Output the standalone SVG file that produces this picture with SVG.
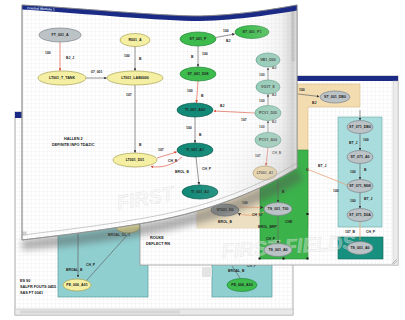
<svg xmlns="http://www.w3.org/2000/svg" width="405" height="320" viewBox="0 0 405 320">
<defs>
<style>
text{font-family:"Liberation Sans",Arial,sans-serif;fill:#222;}
.nl{font-size:3.6px;font-weight:bold;text-anchor:middle;}
.el{font-size:3.4px;font-weight:bold;}
.blk{font-size:3.8px;font-weight:bold;}
.yel{fill:#f4efa2;stroke:#a8a050;stroke-width:.7;}
.gry{fill:#bcc3c7;stroke:#7d8388;stroke-width:.7;}
.grn{fill:#3dbb4c;stroke:#23863a;stroke-width:.7;}
.dtl{fill:#138a78;stroke:#0b5a4e;stroke-width:.7;}
.ltl{fill:#8ccab2;stroke:#4f9480;stroke-width:.7;}
.tan{fill:#f1d8a0;stroke:#a88a58;stroke-width:.7;}
.e{fill:none;stroke:#666;stroke-width:.7;}
.r{fill:none;stroke:#e0604a;stroke-width:.7;}
.o{fill:none;stroke:#e9a27a;stroke-width:.8;}
.win{stroke:#9a9a9a;stroke-width:.8;}
.bar{fill:#1b2a84;}
.wm{font-size:20px;font-weight:bold;fill:#f2f2f2;fill-opacity:.35;stroke:#d8d8d8;stroke-opacity:.7;stroke-width:.4;font-style:italic;}
</style>
<pattern id="grid" width="4" height="4" patternUnits="userSpaceOnUse">
<rect width="4" height="4" fill="#fff"/>
<path d="M4 0V4M0 4H4" stroke="#e3e5e8" stroke-width=".5"/>
</pattern>
<marker id="ah" viewBox="0 0 6 6" refX="5" refY="3" markerWidth="4" markerHeight="4" orient="auto"><path d="M0 0L6 3L0 6Z" fill="#333"/></marker>
<marker id="ahr" viewBox="0 0 6 6" refX="5" refY="3" markerWidth="4" markerHeight="4" orient="auto"><path d="M0 0L6 3L0 6Z" fill="#d84a35"/></marker>
<linearGradient id="pageShade" gradientUnits="userSpaceOnUse" x1="22" y1="0" x2="297" y2="0">
<stop offset="0" stop-color="#fff" stop-opacity="0"/>
<stop offset="0.8" stop-color="#fff" stop-opacity="0"/>
<stop offset="0.94" stop-color="#d4d4d4" stop-opacity=".3"/>
<stop offset="0.985" stop-color="#b5b5b5" stop-opacity=".6"/>
<stop offset="1" stop-color="#eeeeee" stop-opacity=".9"/>
</linearGradient>
<radialGradient id="curlShade" gradientUnits="userSpaceOnUse" cx="300" cy="200" r="110">
<stop offset="0" stop-color="#b0b0b0" stop-opacity=".5"/>
<stop offset="0.5" stop-color="#c8c8c8" stop-opacity=".2"/>
<stop offset="1" stop-color="#fff" stop-opacity="0"/>
</radialGradient>
<filter id="blur" x="-10%" y="-50%" width="120%" height="200%"><feGaussianBlur stdDeviation="3"/></filter>
<clipPath id="pageClip"><path d="M22,5 C90,9 160,16 200,16 C240,15 275,9 297,5 L297,168 C260,190 215,210 150,222 C100,231 55,236 22,240 Z"/></clipPath>
</defs>

<!-- Back window -->
<g id="window3">
<rect class="win" x="15" y="112" width="278" height="203" fill="url(#grid)"/>
<rect class="bar" x="15" y="112" width="278" height="6"/>
<rect x="15" y="309" width="278" height="6" fill="#e9e9e9" stroke="#b5b5b5" stroke-width=".5"/>
<rect x="20" y="310.5" width="160" height="3" fill="#d6d6d6"/>
<rect x="58" y="200" width="90" height="97" fill="#8fcfd0" stroke="#5a9a9a" stroke-width=".7"/>
<rect x="212" y="240" width="60" height="57" fill="#8fcfd0" stroke="#5a9a9a" stroke-width=".7"/>
<rect x="202" y="267" width="10" height="10" fill="#e4e4e4"/>
<g id="w3-edges">
<path class="e" d="M78,215 V277" marker-end="url(#ah)"/>
<path class="e" d="M86,281 L130,232" stroke="#2a6a70"/>
<path class="e" d="M232,266 L240,278"/>
<text class="el" x="66" y="271">BROAL_B</text>
<text class="el" x="86" y="266">CH_P</text>
<text class="el" x="108" y="236">BROAL_DL_1</text>
<text class="el" x="228" y="272">BROAL_B</text>
<text class="el" x="247" y="267">CH_P</text>
</g>
<g id="w3-n1"><ellipse class="yel" cx="128" cy="227" rx="12" ry="6"/></g>
<g id="w3-n2"><ellipse class="yel" cx="77" cy="285" rx="14" ry="6"/><text class="nl" x="77" y="286.3">PE_006_A01</text></g>
<g id="w3-n3"><ellipse class="grn" cx="242" cy="285" rx="15" ry="6.5"/><text class="nl" x="242" y="286.3">PE_006_A03</text></g>
<text class="blk" x="20" y="282">ES 90</text>
<text class="blk" x="20" y="288">SALFR FOUTS 0455</text>
<text class="blk" x="20" y="294">SAS FT 0041</text>
</g>

<!-- Middle window -->
<g id="window2">
<rect class="win" x="140" y="76" width="258" height="189" fill="url(#grid)"/>
<rect class="bar" x="140" y="76" width="258" height="5"/>
<rect x="393" y="81" width="5" height="184" fill="#ececec" stroke="#bbb" stroke-width=".4"/>
<path d="M392,264 L397,259 M394,264 L397,261" stroke="#888" stroke-width=".5"/>
<path d="M197,84 H360 V107 H308 V228 H197 Z" fill="#f3dcb0" stroke="#d8bd88" stroke-width=".6"/>
<rect x="197" y="175" width="63" height="53" fill="#ecdfc2"/>
<rect x="260" y="150" width="48" height="109" fill="#3cb24b" stroke="#2a8a3a" stroke-width=".6"/>
<rect x="338" y="117" width="44" height="110" fill="#a9dcdc" stroke="#6aa8a8" stroke-width=".6"/>
<rect x="338" y="237" width="45" height="22" fill="#17907f" stroke="#0e6a5c" stroke-width=".6"/>
<g fill="#111"><rect x="306.5" y="168.5" width="2" height="2"/><rect x="306.5" y="213" width="2" height="2"/><rect x="306.5" y="257.5" width="2" height="2"/><rect x="282.5" y="257.5" width="2" height="2"/><rect x="258.5" y="257.5" width="2" height="2"/></g>
<text class="wm" x="222" y="258" transform="rotate(-4 222 258)">FIRST FIELDS</text>
<g id="w2-edges">
<path class="e" d="M298,94 L319,96.5" stroke="#333" marker-end="url(#ah)"/>
<text class="el" x="299" y="91">100</text>
<text class="el" x="312" y="104">BJ</text>
<path class="e" d="M360,110 V120" marker-end="url(#ah)"/>
<path class="e" d="M360,133.5 V150" marker-end="url(#ah)"/>
<text class="el" x="349" y="144">BT_J</text><text class="el" x="363" y="141">100</text>
<path class="e" d="M360,163.5 V179" marker-end="url(#ah)"/>
<text class="el" x="350" y="173">100</text><text class="el" x="364" y="171">B</text>
<path class="e" d="M360,192.5 V208" marker-end="url(#ah)"/>
<text class="el" x="350" y="202">100</text><text class="el" x="364" y="200">BT_J</text>
<path class="o" d="M360,221.5 V240"/>
<text class="el" x="345" y="233">107_B</text><text class="el" x="366" y="233">CH_P</text>
<path class="o" d="M307,169 L347,185"/>
<text class="el" x="318" y="167">BT_J</text><text class="el" x="333" y="192">100</text>
<path class="e" d="M278,180 V202" stroke="#222" marker-end="url(#ah)"/>
<text class="el" x="282" y="193">B</text>
<path class="e" d="M278,215.5 V243" stroke="#222" marker-end="url(#ah)"/>
<text class="el" x="285" y="223">CHE</text><text class="el" x="258" y="228">BROL_BRP</text><text class="el" x="266" y="240">CH_P</text>
<path class="o" d="M239,207 L263,207.5" marker-end="url(#ah)"/>
<path class="o" d="M264,212 C255,216 245,216 238,213.5" marker-end="url(#ah)"/>
<text class="el" x="242" y="204">100</text><text class="el" x="252" y="216">CH_07</text><text class="el" x="218" y="223">BROL_B</text>
</g>
<g id="w2-n1"><ellipse class="gry" cx="335" cy="97" rx="15" ry="6"/><text class="nl" x="335" y="98.3">ST_001_DB0</text></g>
<g id="w2-n2"><ellipse class="gry" cx="360" cy="127" rx="13" ry="6.5"/><text class="nl" x="360" y="128.3">ST_071_DB0</text></g>
<g id="w2-n3"><ellipse class="gry" cx="360" cy="157" rx="13" ry="6.5"/><text class="nl" x="360" y="158.3">ST_071_A0</text></g>
<g id="w2-n4"><ellipse class="gry" cx="360" cy="186" rx="13" ry="6.5"/><text class="nl" x="360" y="187.3">ST_071_M08</text></g>
<g id="w2-n5"><ellipse class="gry" cx="360" cy="215" rx="13" ry="6.5"/><text class="nl" x="360" y="216.3">ST_071_D0A</text></g>
<g id="w2-n6"><ellipse class="gry" cx="360" cy="248" rx="13" ry="6.5"/><text class="nl" x="360" y="249.3">TS_001_A0</text></g>
<g id="w2-n7"><ellipse class="gry" cx="278" cy="209" rx="14" ry="6.5"/><text class="nl" x="278" y="210.3">TS_001_T00</text></g>
<g id="w2-n8"><ellipse class="gry" cx="278" cy="250" rx="14" ry="6.5"/><text class="nl" x="278" y="251.3">TS_001_A0</text></g>
<g id="w2-n9"><ellipse cx="225" cy="210" rx="14" ry="6" fill="#9ca0a0" stroke="#6a6e6e" stroke-width=".7"/><text class="nl" x="225" y="211.3">ST001_D0</text></g>
<text class="blk" x="150" y="239">ROUKE</text>
<text class="blk" x="146" y="245">DEFLECT RN</text>
</g>

<!-- Curl shadow -->
<path d="M22,240 C55,236 100,231 150,222 C215,210 260,190 297,168 L303,180 C262,204 218,222 150,234 C100,243 55,248 22,250 Z" fill="#555" opacity=".45" filter="url(#blur)"/>

<!-- Front curled window -->
<g id="window1">
<path class="win" d="M22,5 C90,9 160,16 200,16 C240,15 275,9 297,5 L297,168 C260,190 215,210 150,222 C100,231 55,236 22,240 Z" fill="url(#grid)"/>
<g clip-path="url(#pageClip)">
<text class="wm" x="118" y="210" transform="rotate(-10 118 210)">FIRST</text>
<g id="w1-edges">
<path class="r" d="M60,42 V70.5" marker-end="url(#ahr)"/>
<text class="el" x="45" y="54">100</text><text class="el" x="66" y="59">BJ_J</text>
<path class="e" d="M86,78 H106.5" stroke="#222" marker-end="url(#ah)"/>
<text class="el" x="91" y="73">07_001</text>
<path class="e" d="M135,46.5 V70.5" marker-end="url(#ah)"/>
<text class="el" x="124" y="57">100</text><text class="el" x="139" y="60">B</text>
<path class="e" d="M135,85 V152.5" marker-end="url(#ah)"/>
<text class="el" x="126" y="96">107</text><text class="el" x="139" y="146">B</text>
<path class="e" d="M216,37.5 L234.5,34" marker-end="url(#ah)"/>
<text class="el" x="223" y="32">100</text><text class="el" x="226" y="42">BJ</text>
<path class="e" d="M198,46 V66.5" marker-end="url(#ah)"/>
<text class="el" x="191" y="58">B</text><text class="el" x="202" y="55">100</text>
<path class="r" d="M198,81 L196.5,102.5" marker-end="url(#ahr)"/>
<text class="el" x="187" y="92">100</text><text class="el" x="201" y="97">B</text>
<path class="e" d="M195,117 V142.5" marker-end="url(#ah)"/>
<text class="el" x="186" y="129">100</text><text class="el" x="199" y="136">B</text>
<path class="e" d="M196,157 L199,184.5" marker-end="url(#ah)"/>
<text class="el" x="202" y="170">CH_P</text>
<path class="r" d="M255,113 L214,111" marker-end="url(#ahr)"/>
<text class="el" x="241" y="121">107</text><text class="el" x="220" y="107">BJ</text>
<path class="e" d="M268,80 V68" marker-end="url(#ah)"/>
<text class="el" x="259" y="76">100</text><text class="el" x="272" y="69">BJ</text>
<path class="e" d="M268,106 V94.5" marker-end="url(#ah)"/>
<text class="el" x="259" y="102">100</text><text class="el" x="272" y="96">BJ</text>
<path class="e" d="M268,133 V121" marker-end="url(#ah)"/>
<text class="el" x="259" y="128">100</text><text class="el" x="272" y="123">BJ</text>
<path class="r" d="M268,147.5 L266,165.5" marker-end="url(#ahr)"/>
<text class="el" x="255" y="157">107</text><text class="el" x="272" y="154">CH_B</text>
<path class="r" d="M157,158 L176.5,152" marker-end="url(#ahr)"/>
<text class="el" x="158" y="151">107</text><text class="el" x="168" y="162">CH_B</text>
<path class="r" d="M182,157 C172,166 160,168 151,166.5" marker-end="url(#ahr)"/>
<text class="el" x="175" y="173">BROL_B</text>
</g>
<g id="w1-n1"><ellipse class="gry" cx="60" cy="35" rx="21" ry="7"/><text class="nl" x="60" y="36.3">FT_001_A</text></g>
<g id="w1-n2"><ellipse class="yel" cx="62" cy="78" rx="24" ry="7"/><text class="nl" x="62" y="79.3">LT001_T_TANK</text></g>
<g id="w1-n3"><ellipse class="yel" cx="135" cy="40" rx="15" ry="6.5"/><text class="nl" x="135" y="41.3">R001_A</text></g>
<g id="w1-n4"><ellipse class="yel" cx="135" cy="78" rx="28" ry="7"/><text class="nl" x="135" y="79.3">LT001_LAB0000</text></g>
<g id="w1-n5"><ellipse class="yel" cx="135" cy="160" rx="22" ry="7"/><text class="nl" x="135" y="161.3">LT001_D01</text></g>
<g id="w1-n6"><ellipse class="grn" cx="198" cy="39" rx="18" ry="7"/><text class="nl" x="198" y="40.3">ST_001_P</text></g>
<g id="w1-n7"><ellipse class="grn" cx="252" cy="32" rx="17" ry="6.5"/><text class="nl" x="252" y="33.3">ST_001_P1</text></g>
<g id="w1-n8"><ellipse class="grn" cx="198" cy="74" rx="18" ry="7"/><text class="nl" x="198" y="75.3">ST_001_D08</text></g>
<g id="w1-n9"><ellipse class="dtl" cx="195" cy="110" rx="18" ry="7"/><text class="nl" x="195" y="111.3">TI_001_A03</text></g>
<g id="w1-n10"><ellipse class="dtl" cx="195" cy="150" rx="18" ry="7"/><text class="nl" x="195" y="151.3">TI_001_A1</text></g>
<g id="w1-n11"><ellipse class="dtl" cx="200" cy="192" rx="18" ry="7"/><text class="nl" x="200" y="193.3">TI_001_A2</text></g>
<g id="w1-n12"><ellipse class="ltl" cx="268" cy="60" rx="12" ry="7"/><text class="nl" x="268" y="61.3">VB1_D00</text></g>
<g id="w1-n13"><ellipse class="ltl" cx="268" cy="87" rx="12" ry="7"/><text class="nl" x="268" y="88.3">VO1T_E</text></g>
<g id="w1-n14"><ellipse class="ltl" cx="268" cy="113" rx="13" ry="7.5"/><text class="nl" x="268" y="114.3">PCV1_D05</text></g>
<g id="w1-n15"><ellipse class="ltl" cx="268" cy="140" rx="13" ry="7.5"/><text class="nl" x="268" y="141.3">PCV1_A04</text></g>
<g id="w1-n16"><ellipse class="tan" cx="265" cy="173" rx="12" ry="7"/><text class="nl" x="265" y="174.3">LT001_A1</text></g>
<text class="blk" x="64" y="140">HALLEN 2</text>
<text class="blk" x="52" y="146">DEFINITE INFO TDAZIC</text>
<rect x="292" y="11" width="5" height="50" fill="#d4d4d4" stroke="#aaa" stroke-width=".4"/>
</g>
<path d="M22,5 C90,9 160,16 200,16 C240,15 275,9 297,5 L297,168 C260,190 215,210 150,222 C100,231 55,236 22,240 Z" fill="url(#pageShade)"/>
<path d="M22,5 C90,9 160,16 200,16 C240,15 275,9 297,5 L297,168 C260,190 215,210 150,222 C100,231 55,236 22,240 Z" fill="url(#curlShade)"/>
<path class="bar" d="M22,5 C90,9 160,16 200,16 C240,15 275,9 297,5 L297,10.5 C275,14 240,20 200,21 C160,21 90,14 22,9.5 Z"/>
<text x="27" y="9.2" font-size="3.4" font-weight="bold" style="fill:#dfe4ff" transform="rotate(3 27 9)">Control Module 1</text>
<path d="M22,235 C55,231 100,226 150,217 C215,205 260,185 297,163" fill="none" stroke="#a8a8a8" stroke-width=".6"/>
<rect x="23" y="232" width="3" height="3" fill="#ddd" stroke="#999" stroke-width=".4"/>
<path d="M22,5 C90,9 160,16 200,16 C240,15 275,9 297,5 L297,168 C260,190 215,210 150,222 C100,231 55,236 22,240 Z" fill="none" stroke="#8a8a8a" stroke-width=".8"/>
</g>
</svg>
